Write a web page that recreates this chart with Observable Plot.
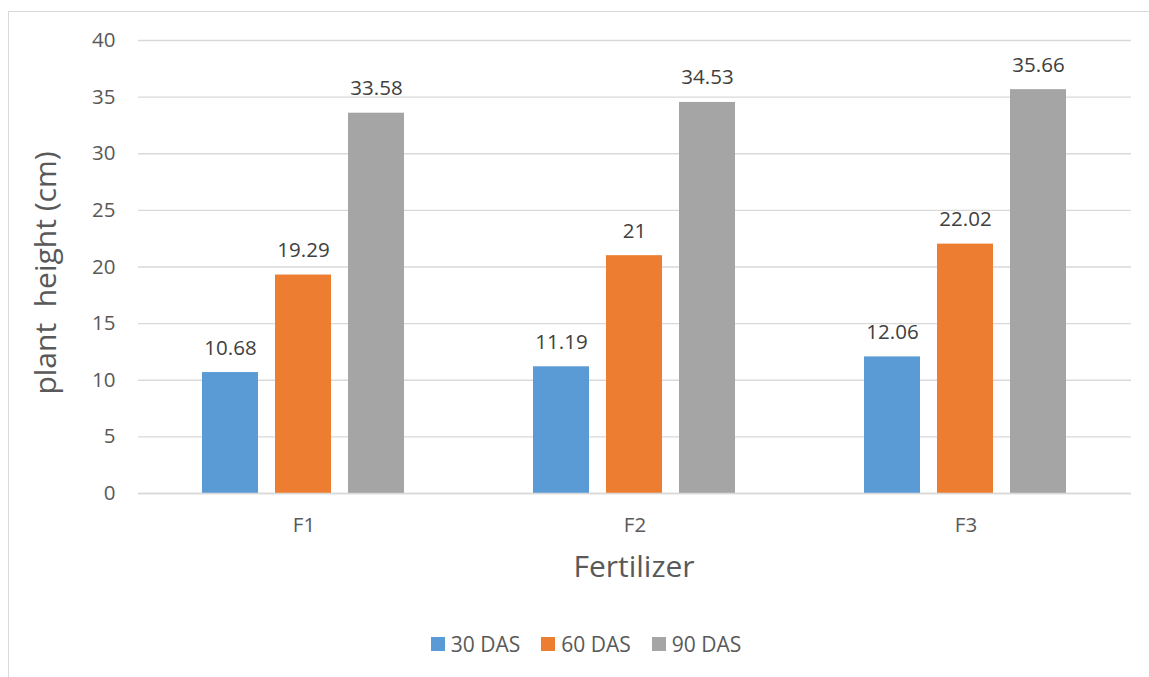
<!DOCTYPE html>
<html>
<head>
<meta charset="utf-8">
<script src="https://cdn.jsdelivr.net/npm/d3@7"></script>
<script src="https://cdn.jsdelivr.net/npm/@observablehq/plot@0.6"></script>
<style>
  html, body { margin: 0; padding: 0; background: #fff; }
  body { width: 1149px; height: 677px; position: relative; overflow: hidden; font-family: "Open Sans", sans-serif; }
  #frame { position: absolute; left: 8px; top: 11px; width: 1200px; height: 700px; border-left: 1px solid #d9d9d9; border-top: 1px solid #d9d9d9; box-sizing: border-box; }
  #chart { position: absolute; left: 0; top: 0; }
  .title { position: absolute; color: #595959; font-size: 30px; white-space: pre; line-height: 1; }
  #xtitle { left: 0; width: 1268px; text-align: center; top: 551px; }
  #ytitle { left: 45px; top: 273px; transform: translate(-50%, -50%) rotate(-90deg); }
  #legend { position: absolute; top: 631px; left: 0; width: 1172px; display: flex; justify-content: center; gap: 21px; color: #595959; font-size: 21px; line-height: 26px; }
  .item { display: flex; align-items: center; }
  .sw { width: 14px; height: 14px; margin-right: 6px; }
</style>
</head>
<body>
<div id="frame"></div>
<div id="chart"></div>
<div id="xtitle" class="title">Fertilizer</div>
<div id="ytitle" class="title">plant  height (cm)</div>
<div id="legend"></div>
<script>
const fertilizers = ["F1", "F2", "F3"];
const series = ["30 DAS", "60 DAS", "90 DAS"];
const colors = ["#5B9BD5", "#ED7D31", "#A5A5A5"];
const das30 = [10.68, 11.19, 12.06];
const das60 = [19.29, 21, 22.02];
const das90 = [33.58, 34.53, 35.66];
const labels30 = ["10.68", "11.19", "12.06"];
const labels60 = ["19.29", "21", "22.02"];
const labels90 = ["33.58", "34.53", "35.66"];
const yTicks = [0, 5, 10, 15, 20, 25, 30, 35, 40];

const seriesValues = [das30, das60, das90];
const seriesLabels = [labels30, labels60, labels90];
const data = [];
fertilizers.forEach((f, i) => {
  series.forEach((s, j) => {
    data.push({fert: f, series: s, value: seriesValues[j][i], label: seriesLabels[j][i]});
  });
});

const chart = Plot.plot({
  width: 1149,
  height: 610,
  marginLeft: 138,
  marginRight: 18,
  marginTop: 40,
  marginBottom: 117,
  style: {fontFamily: "'Open Sans', sans-serif", color: "#595959", background: "transparent"},
  fx: {domain: fertilizers, padding: 0, label: null, axis: null},
  x: {domain: series, paddingInner: 0.23, paddingOuter: 0.858, axis: null},
  y: {domain: [0, 40], label: null},
  color: {domain: series, range: colors},
  marks: [
    Plot.gridY(yTicks, {stroke: "#d9d9d9", strokeOpacity: 1, strokeWidth: 1.3}),
    Plot.axisY(yTicks, {tickSize: 0, tickPadding: 23, fontSize: 20.5, label: null, fill: "#595959"}),
    Plot.text(fertilizers, {fx: d => d, text: d => d, frameAnchor: "bottom", lineAnchor: "top", dy: 24, fontSize: 20.5, fill: "#595959"}),
    Plot.barY(data, {fx: "fert", x: "series", y: "value", fill: "series"}),
    Plot.ruleY([0], {stroke: "#d9d9d9", strokeWidth: 1.5}),
    Plot.text(data, {fx: "fert", x: "series", y: "value", text: "label", lineAnchor: "bottom", dy: -18, fontSize: 20.5, fill: "#404040"})
  ]
});
document.getElementById("chart").appendChild(chart);

const legend = document.getElementById("legend");
series.forEach((s, j) => {
  const item = document.createElement("div");
  item.className = "item";
  const sw = document.createElement("span");
  sw.className = "sw";
  sw.style.background = colors[j];
  const t = document.createElement("span");
  t.textContent = s;
  item.appendChild(sw);
  item.appendChild(t);
  legend.appendChild(item);
});
</script>
</body>
</html>
